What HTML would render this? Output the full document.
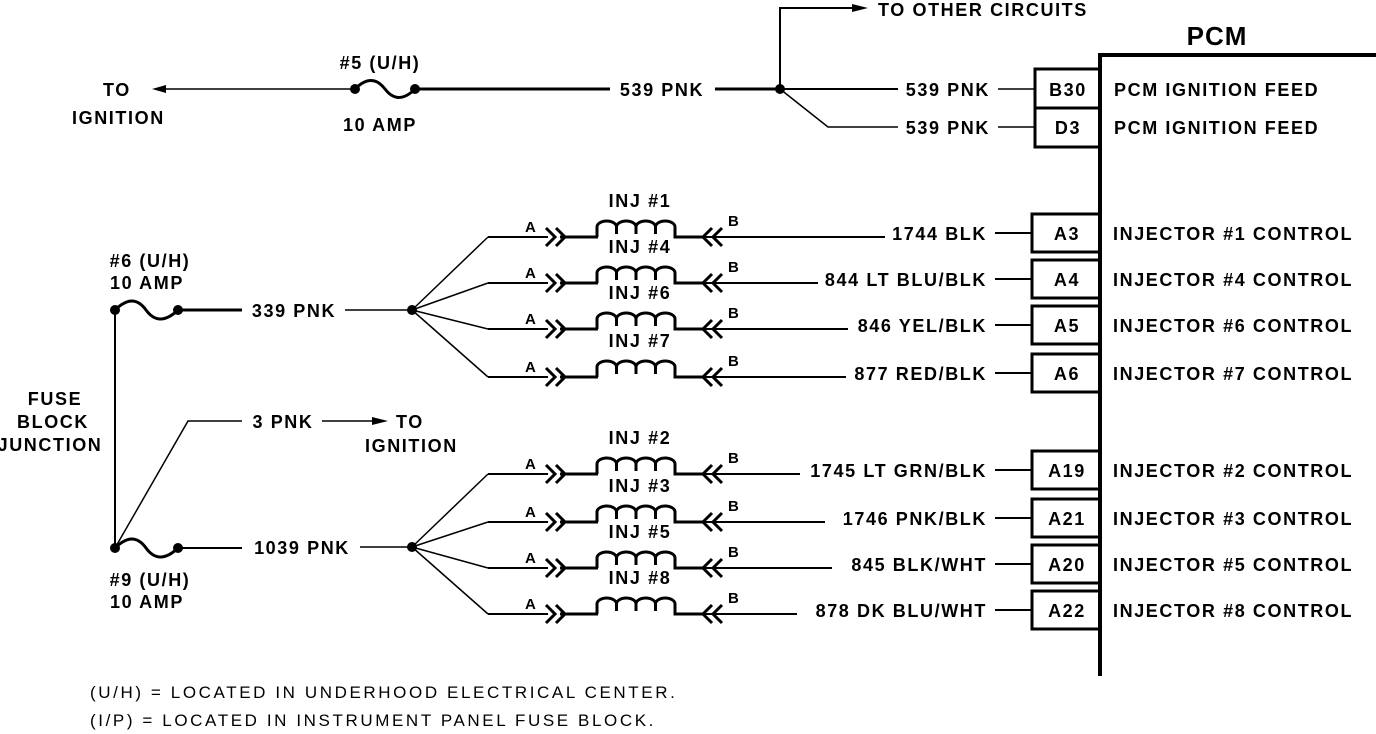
<!DOCTYPE html>
<html><head><meta charset="utf-8"><style>
html,body{margin:0;padding:0;background:#fff;}
svg{display:block;}
text{font-family:"Liberation Sans",sans-serif;font-weight:bold;font-size:18px;letter-spacing:1.6px;fill:#000;}
text.s{font-size:15px;letter-spacing:0;}
text.n{font-size:17px;font-weight:normal;letter-spacing:2.6px;}
text.big{font-size:26px;letter-spacing:1px;}
</style></head><body>
<svg width="1376" height="734" viewBox="0 0 1376 734" xmlns="http://www.w3.org/2000/svg">
<defs>
<g id="inj" fill="none" stroke="#000">
  <line x1="488" y1="0" x2="548" y2="0" stroke-width="2"/>
  <polyline points="546,-9 555,0 546,9" stroke-width="3"/>
  <polyline points="556,-9 565,0 556,9" stroke-width="3"/>
  <line x1="560" y1="0" x2="598" y2="0" stroke-width="3"/>
  <path d="M597 0 V-10 A9.75 6 0 0 1 616.5 -10 V-3 M616.5 -10 A9.75 6 0 0 1 636 -10 V-3 M636 -10 A9.75 6 0 0 1 655.5 -10 V-3 M655.5 -10 A9.75 6 0 0 1 675 -10 V0 H704" stroke-width="3"/>
  <polyline points="712,-9 703,0 712,9" stroke-width="3"/>
  <polyline points="722,-9 713,0 722,9" stroke-width="3"/>
</g>
</defs>
<g fill="none" stroke="#000">
<line x1="162" y1="89" x2="355" y2="89" stroke-width="1.5"/>
<polygon points="152,89 166,85 166,93" fill="#000" stroke="none"/>
<path d="M355 89 Q372 72 385 89 Q398 106 415 89" stroke-width="3"/>
<line x1="415" y1="89" x2="610" y2="89" stroke-width="3"/>
<line x1="715" y1="89" x2="780" y2="89" stroke-width="3"/>
<line x1="780" y1="89" x2="898" y2="89" stroke-width="2"/>
<polyline points="780,89 828,127 898,127" stroke-width="1.5"/>
<polyline points="780,89 780,8 855,8" stroke-width="2"/>
<polygon points="868,8 852,4 852,12" fill="#000" stroke="none"/>
<line x1="998" y1="89" x2="1035" y2="89" stroke-width="1.5"/>
<line x1="998" y1="127" x2="1035" y2="127" stroke-width="1.5"/>
<rect x="1035" y="69" width="65" height="39" stroke-width="3"/>
<rect x="1035" y="108" width="65" height="39" stroke-width="3"/>
<line x1="1100" y1="55" x2="1100" y2="676" stroke-width="4"/>
<line x1="1098" y1="55" x2="1376" y2="55" stroke-width="4"/>
<line x1="115" y1="310" x2="115" y2="548" stroke-width="2"/>
<path d="M115 310 Q133 292 146 310 Q159 328 178 310" stroke-width="3"/>
<path d="M115 548 Q133 530 146 548 Q159 566 178 548" stroke-width="3"/>
<line x1="178" y1="310" x2="242" y2="310" stroke-width="3"/>
<line x1="178" y1="548" x2="242" y2="548" stroke-width="2"/>
<line x1="345" y1="310" x2="412" y2="310" stroke-width="1.5"/>
<line x1="360" y1="547" x2="412" y2="547" stroke-width="1.5"/>
<polyline points="115,548 188,421 242,421" stroke-width="1.5"/>
<line x1="322" y1="421" x2="375" y2="421" stroke-width="1.5"/>
<polygon points="388,421 372,417 372,425" fill="#000" stroke="none"/>
<polyline points="412,310 488,237" stroke-width="1.5"/>
<polyline points="412,310 488,283" stroke-width="1.5"/>
<polyline points="412,310 488,329" stroke-width="1.5"/>
<polyline points="412,310 488,377" stroke-width="1.5"/>
<polyline points="412,547 488,474" stroke-width="1.5"/>
<polyline points="412,547 488,522" stroke-width="1.5"/>
<polyline points="412,547 488,568" stroke-width="1.5"/>
<polyline points="412,547 488,614" stroke-width="1.5"/>
</g>
<g fill="#000">
<circle cx="355" cy="89" r="5"/><circle cx="415" cy="89" r="5"/><circle cx="780" cy="89" r="5"/>
<circle cx="115" cy="310" r="5"/><circle cx="178" cy="310" r="5"/>
<circle cx="115" cy="548" r="5"/><circle cx="178" cy="548" r="5"/>
<circle cx="412" cy="310" r="5"/><circle cx="412" cy="547" r="5"/>
</g>
<g>
<use href="#inj" transform="translate(0,237)"/>
<use href="#inj" transform="translate(0,283)"/>
<use href="#inj" transform="translate(0,329)"/>
<use href="#inj" transform="translate(0,377)"/>
<use href="#inj" transform="translate(0,474)"/>
<use href="#inj" transform="translate(0,522)"/>
<use href="#inj" transform="translate(0,568)"/>
<use href="#inj" transform="translate(0,614)"/>
</g>
<g fill="none" stroke="#000" stroke-width="2">
<line x1="705" y1="237" x2="885" y2="237"/><line x1="995" y1="233" x2="1032" y2="233"/>
<line x1="705" y1="283" x2="818" y2="283"/><line x1="995" y1="279" x2="1032" y2="279"/>
<line x1="705" y1="329" x2="848" y2="329"/><line x1="995" y1="325" x2="1032" y2="325"/>
<line x1="705" y1="377" x2="846" y2="377"/><line x1="995" y1="373" x2="1032" y2="373"/>
<line x1="705" y1="474" x2="800" y2="474"/><line x1="995" y1="470" x2="1032" y2="470"/>
<line x1="705" y1="522" x2="825" y2="522"/><line x1="995" y1="518" x2="1032" y2="518"/>
<line x1="705" y1="568" x2="832" y2="568"/><line x1="995" y1="564" x2="1032" y2="564"/>
<line x1="705" y1="614" x2="797" y2="614"/><line x1="995" y1="610" x2="1032" y2="610"/>
</g>
<g fill="none" stroke="#000" stroke-width="3">
<rect x="1032" y="214" width="68" height="38"/>
<rect x="1032" y="260" width="68" height="38"/>
<rect x="1032" y="306" width="68" height="38"/>
<rect x="1032" y="354" width="68" height="38"/>
<rect x="1032" y="451" width="68" height="38"/>
<rect x="1032" y="499" width="68" height="38"/>
<rect x="1032" y="545" width="68" height="38"/>
<rect x="1032" y="591" width="68" height="38"/>
</g>
<text class="big" x="1217" y="45" text-anchor="middle">PCM</text>
<text x="878" y="16">TO OTHER CIRCUITS</text>
<text x="103" y="96">TO</text>
<text x="72" y="124">IGNITION</text>
<text x="380" y="69" text-anchor="middle">#5 (U/H)</text>
<text x="380" y="131" text-anchor="middle">10 AMP</text>
<text x="662" y="96" text-anchor="middle">539 PNK</text>
<text x="990" y="96" text-anchor="end">539 PNK</text>
<text x="990" y="134" text-anchor="end">539 PNK</text>
<text x="1068" y="96" text-anchor="middle">B30</text>
<text x="1068" y="134" text-anchor="middle">D3</text>
<text x="1114" y="96">PCM IGNITION FEED</text>
<text x="1114" y="134">PCM IGNITION FEED</text>
<text x="150" y="267" text-anchor="middle">#6 (U/H)</text>
<text x="147" y="289" text-anchor="middle">10 AMP</text>
<text x="150" y="586" text-anchor="middle">#9 (U/H)</text>
<text x="147" y="608" text-anchor="middle">10 AMP</text>
<text x="55" y="405" text-anchor="middle">FUSE</text>
<text x="53" y="428" text-anchor="middle">BLOCK</text>
<text x="50" y="451" text-anchor="middle">JUNCTION</text>
<text x="294" y="317" text-anchor="middle">339 PNK</text>
<text x="302" y="554" text-anchor="middle">1039 PNK</text>
<text x="283" y="428" text-anchor="middle">3 PNK</text>
<text x="396" y="428">TO</text>
<text x="365" y="452">IGNITION</text>
<g text-anchor="middle">
<text x="640" y="207">INJ #1</text><text x="640" y="253">INJ #4</text><text x="640" y="299">INJ #6</text><text x="640" y="347">INJ #7</text>
<text x="640" y="444">INJ #2</text><text x="640" y="492">INJ #3</text><text x="640" y="538">INJ #5</text><text x="640" y="584">INJ #8</text>
</g>
<g>
<text class="s" x="525" y="232">A</text><text class="s" x="728" y="226">B</text>
<text class="s" x="525" y="278">A</text><text class="s" x="728" y="272">B</text>
<text class="s" x="525" y="324">A</text><text class="s" x="728" y="318">B</text>
<text class="s" x="525" y="372">A</text><text class="s" x="728" y="366">B</text>
<text class="s" x="525" y="469">A</text><text class="s" x="728" y="463">B</text>
<text class="s" x="525" y="517">A</text><text class="s" x="728" y="511">B</text>
<text class="s" x="525" y="563">A</text><text class="s" x="728" y="557">B</text>
<text class="s" x="525" y="609">A</text><text class="s" x="728" y="603">B</text>
</g>
<g text-anchor="end">
<text x="987" y="240">1744 BLK</text>
<text x="987" y="286">844 LT BLU/BLK</text>
<text x="987" y="332">846 YEL/BLK</text>
<text x="987" y="380">877 RED/BLK</text>
<text x="987" y="477">1745 LT GRN/BLK</text>
<text x="987" y="525">1746 PNK/BLK</text>
<text x="987" y="571">845 BLK/WHT</text>
<text x="987" y="617">878 DK BLU/WHT</text>
</g>
<g text-anchor="middle">
<text x="1067" y="240">A3</text><text x="1067" y="286">A4</text><text x="1067" y="332">A5</text><text x="1067" y="380">A6</text>
<text x="1067" y="477">A19</text><text x="1067" y="525">A21</text><text x="1067" y="571">A20</text><text x="1067" y="617">A22</text>
</g>
<text x="1113" y="240">INJECTOR #1 CONTROL</text>
<text x="1113" y="286">INJECTOR #4 CONTROL</text>
<text x="1113" y="332">INJECTOR #6 CONTROL</text>
<text x="1113" y="380">INJECTOR #7 CONTROL</text>
<text x="1113" y="477">INJECTOR #2 CONTROL</text>
<text x="1113" y="525">INJECTOR #3 CONTROL</text>
<text x="1113" y="571">INJECTOR #5 CONTROL</text>
<text x="1113" y="617">INJECTOR #8 CONTROL</text>
<text class="n" x="90" y="698">(U/H) = LOCATED IN UNDERHOOD ELECTRICAL CENTER.</text>
<text class="n" x="90" y="726">(I/P) = LOCATED IN INSTRUMENT PANEL FUSE BLOCK.</text>
</svg>
</body></html>
